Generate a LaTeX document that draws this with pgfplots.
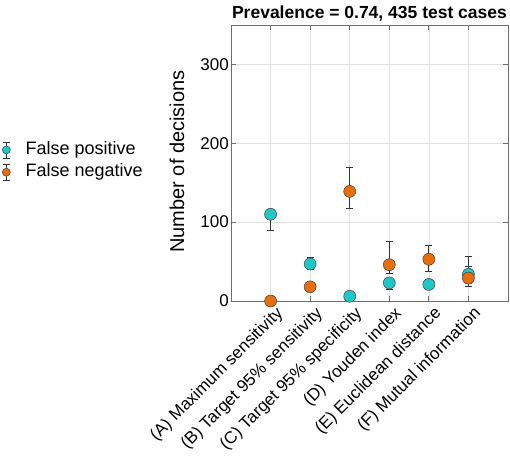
\documentclass[border=0pt]{standalone}
\usepackage{pgfplots}
\pgfplotsset{compat=1.18}
\usepackage{fontspec}
\setmainfont{Liberation Sans}
\definecolor{fpc}{RGB}{30,200,200}
\definecolor{fnc}{RGB}{232,110,10}
\definecolor{axc}{RGB}{110,110,110}
\begin{document}
\begin{tikzpicture}[x=1pt,y=1pt]
\begin{axis}[
  at={(0pt,0pt)}, anchor=south west,
  scale only axis,
  width=277pt, height=276pt,
  xmin=0, xmax=7, ymin=0, ymax=350,
  xtick={1,2,3,4,5,6},
  xticklabels={(A) Maximum sensitivity,(B) Target 95\% sensitivity,(C) Target 95\% specificity,(D) Youden index,(E) Euclidean distance,(F) Mutual information},
  ytick={0,100,200,300},
  xticklabel style={xshift=10pt, yshift=-10pt, rotate=45, anchor=east, font=\fontsize{17}{19}\selectfont, inner sep=0pt},
  yticklabel style={font=\fontsize{17}{19}\selectfont, inner sep=2pt},
  /pgf/number format/assume math mode=true,
  grid=major,
  major grid style={draw=black!12, line width=0.6pt},
  axis line style={draw=axc, line width=0.8pt},
  tick style={draw=axc, line width=0.8pt},
  tick align=inside,
  major tick length=5pt,
  ylabel={Number of decisions},
  ylabel style={at={(axis description cs:-0.195,0.505)}, anchor=center, font=\fontsize{20}{22}\selectfont},
  title={\textbf{Prevalence = 0.74, 435 test cases}},
  title style={at={(axis description cs:0.5,1)}, anchor=base, yshift=1pt, font=\fontsize{17.5}{19}\selectfont},
  legend style={at={(axis description cs:-0.827,0.507)}, anchor=west, draw=none, fill=none, font=\fontsize{18}{22}\selectfont, row sep=1.3pt, inner sep=0pt,
    nodes={text height=13pt, text depth=4pt, inner sep=2pt}},
  legend cell align=left,
  legend image code/.code={
    \path (-4pt,0pt) (17pt,0pt);
    \draw[black!80, line width=0.7pt] (0pt,-8pt) -- (0pt,8pt);
    \draw[black!80, line width=0.7pt] (-3.5pt,-8pt) -- (3.5pt,-8pt);
    \draw[black!80, line width=0.7pt] (-3.5pt,8pt) -- (3.5pt,8pt);
    \draw[#1, only marks, mark size=4pt] plot coordinates {(0pt,0pt)};
  },
]
\addplot+[only marks, mark=*, mark size=6pt, mark options={fill=fpc, draw=black!75, line width=0.5pt},
  error bars/.cd, y dir=both, y explicit,
  error bar style={black!80, line width=0.8pt},
  error mark options={rotate=90, mark size=3.5pt, black!80, line width=0.8pt}]
coordinates {
  (1,110) += (0,3) -= (0,21)
  (2,47) += (0,8) -= (0,7)
  (3,6) += (0,3) -= (0,3)
  (4,23) += (0,6) -= (0,8)
  (5,21) += (0,7) -= (0,5)
  (6,34) += (0,23) -= (0,12)
};
\addlegendentry{False positive}
\addplot+[only marks, mark=*, mark size=6pt, mark options={fill=fnc, draw=black!75, line width=0.5pt},
  error bars/.cd, y dir=both, y explicit,
  error bar style={black!80, line width=0.8pt},
  error mark options={rotate=90, mark size=3.5pt, black!80, line width=0.8pt}]
coordinates {
  (1,0) += (0,0) -= (0,0)
  (2,18) += (0,3) -= (0,3)
  (3,139) += (0,30) -= (0,21)
  (4,46) += (0,30) -= (0,11)
  (5,53) += (0,17) -= (0,16)
  (6,29) += (0,15) -= (0,11)
};
\addlegendentry{False negative}
\end{axis}
\pgfresetboundingbox
\path (-231pt,-154pt) rectangle (279pt,301pt);
\end{tikzpicture}
\end{document}
